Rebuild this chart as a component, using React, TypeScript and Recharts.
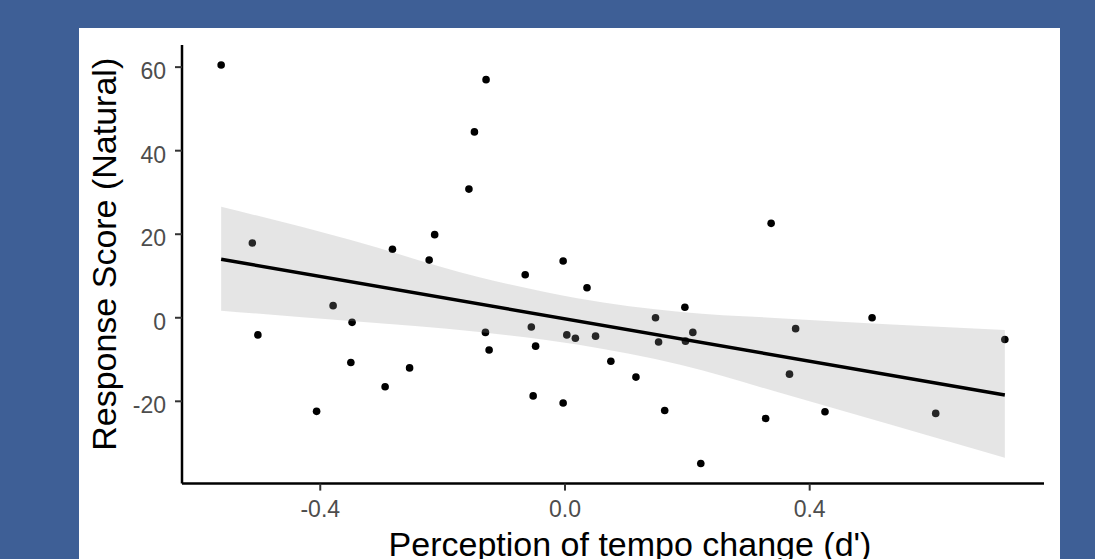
import React from 'react';
import { ComposedChart, Scatter, Area, Line, XAxis, YAxis, Label } from 'recharts';

// d' for tempo change perception, one entry per participant
const dPrime = [
  -0.562, -0.129, -0.148, -0.157, -0.213, -0.282, -0.222, -0.511, -0.379, -0.348, -0.502,
  -0.13, -0.124, -0.35, -0.254, -0.294, -0.406, 0.337, -0.003, -0.065, 0.036, 0.196,
  0.148, -0.055, 0.003, 0.017, 0.05, 0.209, 0.153, 0.197, -0.048, 0.075, 0.116,
  -0.052, -0.003, 0.163, 0.328, 0.222, 0.502, 0.377, 0.719, 0.367, 0.425, 0.606,
];

// matching response scores (natural condition)
const responseScore = [
  60.5, 57.0, 44.5, 30.8, 19.9, 16.4, 13.8, 17.9, 2.9, -1.1, -4.1,
  -3.5, -7.7, -10.7, -12.0, -16.5, -22.4, 22.6, 13.6, 10.3, 7.2, 2.5,
  0.0, -2.2, -4.1, -4.9, -4.4, -3.5, -5.8, -5.6, -6.8, -10.4, -14.2,
  -18.7, -20.4, -22.2, -24.1, -34.9, 0.0, -2.6, -5.2, -13.5, -22.5, -22.9,
];

// linear fit endpoints
const fitX = [-0.562, 0.719];
const fitY = [14.0, -18.5];

// 95% confidence band around the fit
const bandX = [-0.562, -0.35, -0.14, 0.02, 0.19, 0.35, 0.719];
const bandLow = [1.7, -0.8, -3.4, -6.4, -11.3, -17.9, -33.5];
const bandHigh = [26.6, 18.6, 9.7, 4.7, 1.4, -0.1, -2.9];

const xTicks = [-0.4, 0, 0.4];
const yTicks = [-20, 0, 20, 40, 60];

const points = dPrime.map((d, i) => ({ d, score: responseScore[i] }));
const fit = fitX.map((d, i) => ({ d, fit: fitY[i] }));
const band = bandX.map((d, i) => ({ d, ci: [bandLow[i], bandHigh[i]] }));

const FONT = '"Liberation Sans", Arial, Helvetica, sans-serif';

const XTick = ({ x, y, payload }: any) => (
  <text x={x} y={y} dy={17} textAnchor="middle" fill="#4d4d4d" fontSize={23} fontFamily={FONT}>
    {Number(payload.value).toFixed(1)}
  </text>
);

const YTick = ({ x, y, payload }: any) => (
  <text x={x} y={y} dy={12} textAnchor="end" fill="#4d4d4d" fontSize={23} fontFamily={FONT}>
    {payload.value}
  </text>
);

const Dot = (props: any) => <circle cx={props.cx} cy={props.cy} r={3.8} fill="#000000" />;

const App = () => {
  return (
    <div style={{ position: 'absolute', left: 0, top: 0, width: 1095, height: 559, background: '#3e5f96', overflow: 'hidden' }}>
      <div style={{ position: 'absolute', left: 79, top: 28, width: 981, height: 531, background: '#ffffff' }}>
        <ComposedChart width={981} height={531} margin={{ top: 17, right: 16, bottom: 5, left: 23 }}>
          <XAxis
            dataKey="d"
            type="number"
            domain={[-0.626, 0.783]}
            ticks={xTicks}
            allowDataOverflow
            height={70.4}
            tickSize={7}
            tickMargin={9}
            axisLine={{ stroke: '#000000', strokeWidth: 2.5 }}
            tickLine={{ stroke: '#333333', strokeWidth: 2 }}
            tick={<XTick />}
          >
            <Label
              content={({ viewBox }: any) => (
                <text
                  x={viewBox.x + viewBox.width / 2 + 17}
                  y={viewBox.y + 72.4}
                  textAnchor="middle"
                  fill="#000000"
                  fontSize={34}
                  fontFamily={FONT}
                >
                  Perception of tempo change (d')
                </text>
              )}
            />
          </XAxis>
          <YAxis
            type="number"
            domain={[-39.7, 65.3]}
            ticks={yTicks}
            allowDataOverflow
            width={80}
            tickSize={7}
            tickMargin={9}
            axisLine={{ stroke: '#000000', strokeWidth: 2.5 }}
            tickLine={{ stroke: '#333333', strokeWidth: 2 }}
            tick={<YTick />}
          >
            <Label
              content={({ viewBox }: any) => {
                const cx = viewBox.x + 14;
                const cy = viewBox.y + viewBox.height / 2 - 10;
                return (
                  <text
                    x={cx}
                    y={cy}
                    transform={`rotate(-90, ${cx}, ${cy})`}
                    textAnchor="middle"
                    fill="#000000"
                    fontSize={34}
                    fontFamily={FONT}
                  >
                    Response Score (Natural)
                  </text>
                );
              }}
            />
          </YAxis>
          {/* points go first so the band shades the ones underneath */}
          <Scatter data={points} dataKey="score" shape={<Dot />} isAnimationActive={false} zIndex={50} />
          <Area
            data={band}
            dataKey="ci"
            type="monotone"
            stroke="none"
            fill="#999999"
            fillOpacity={0.25}
            isAnimationActive={false}
          />
          <Line
            data={fit}
            dataKey="fit"
            type="linear"
            stroke="#000000"
            strokeWidth={3.5}
            dot={false}
            activeDot={false}
            isAnimationActive={false}
          />
        </ComposedChart>
      </div>
    </div>
  );
};

export default App;
